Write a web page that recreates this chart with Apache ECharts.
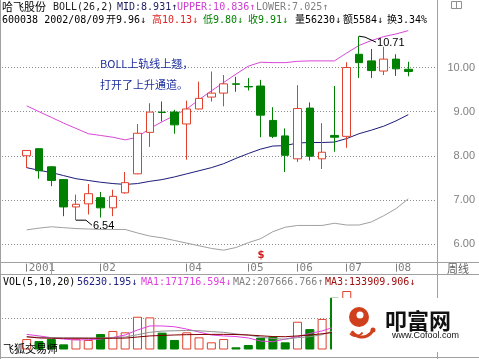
<!DOCTYPE html>
<html><head><meta charset="utf-8">
<script src="https://cdn.jsdelivr.net/npm/echarts@6/dist/echarts.min.js"></script>
<style>html,body{margin:0;padding:0;background:#fff}#c{width:479px;height:359px}</style>
</head><body><div id="c"></div>
<script>
// ---- data ----
const categories = ['2001-12-21','2001-12-28','2002-01-04','2002-01-11','2002-01-18','2002-01-25','2002-02-01','2002-02-08','2002-03-01','2002-03-08','2002-03-15','2002-03-22','2002-03-29','2002-04-05','2002-04-12','2002-04-19','2002-04-26','2002-04-30','2002-05-10','2002-05-17','2002-05-24','2002-05-31','2002-06-07','2002-06-14','2002-06-21','2002-06-28','2002-07-05','2002-07-12','2002-07-19','2002-07-26','2002-08-02','2002-08-09'];
const opens  = [8.00,8.16,7.75,7.46,6.84,6.91,7.05,6.82,7.16,7.59,8.53,8.99,8.99,8.72,9.06,9.33,9.42,9.63,9.57,9.58,8.80,8.45,7.93,9.08,7.93,8.46,8.44,10.30,10.15,9.92,10.19,9.96];
const closes = [8.12,7.66,7.44,6.84,6.90,7.14,6.82,7.08,7.39,8.51,8.99,8.98,8.70,9.06,9.30,9.42,9.63,9.62,9.56,8.92,8.44,8.01,9.07,7.99,8.08,8.42,10.00,10.11,9.93,10.19,9.97,9.91];
const lows   = [7.72,7.48,7.31,6.63,6.54,6.67,6.60,6.63,7.14,7.58,8.20,8.78,8.50,7.91,9.05,9.23,9.12,9.45,9.48,8.42,8.40,7.63,7.86,7.89,7.70,8.09,8.18,9.76,9.76,9.83,9.81,9.80];
const highs  = [8.13,8.17,7.76,7.47,7.12,7.36,7.18,7.23,7.63,8.72,9.19,9.23,9.04,9.25,9.68,9.91,9.83,9.79,9.76,9.72,9.10,8.62,9.60,9.21,8.74,9.58,10.12,10.71,10.42,10.47,10.30,10.13];
const bollUpper = [9.13,9.00,8.87,8.74,8.62,8.50,8.46,8.42,8.36,8.42,8.62,8.77,8.91,9.06,9.27,9.47,9.66,9.85,10.03,10.12,10.11,10.11,10.14,10.15,10.15,10.15,10.33,10.50,10.61,10.70,10.76,10.836];
const bollMid   = [7.73,7.67,7.62,7.55,7.48,7.44,7.40,7.37,7.35,7.37,7.42,7.46,7.52,7.59,7.66,7.73,7.82,7.94,8.05,8.15,8.22,8.23,8.29,8.30,8.30,8.31,8.39,8.50,8.58,8.67,8.79,8.931];
const bollLower = [6.32,6.36,6.39,6.37,6.35,6.34,6.33,6.33,6.33,6.25,6.18,6.14,6.08,6.02,5.96,5.90,5.86,5.92,6.03,6.12,6.28,6.38,6.42,6.42,6.42,6.47,6.43,6.43,6.50,6.64,6.80,7.025];
const volumes = [67000,54000,67000,33000,67000,61000,99000,119000,110000,210000,206000,108000,61000,110000,78000,46000,67000,14000,29000,76000,82000,46000,178000,131000,196000,332000,375000,300000,200000,170000,132000,56230];
const volMA1 = [97000,87000,76000,67000,61000,63000,67000,77000,93000,125000,151000,151000,146000,131000,112000,93000,87000,83000,74000,54000,50000,67000,82000,103000,119000,144000,240000,265000,280000,225000,175000,171717];
const volMA2 = [80000,78000,76000,75000,75000,74000,74000,76000,80000,95000,110000,118000,120000,122000,120000,115000,110000,100000,92000,80000,70000,66000,76000,82000,95000,122000,150000,175000,190000,200000,205000,207667];
const volMA3 = [82000,74000,72000,72000,72000,72000,72000,72000,73000,80000,87000,90000,93000,95000,96000,97000,97000,96000,93000,88000,83000,82000,87000,93000,101000,110000,118000,125000,130000,133000,134000,133910];
const priceTicks = [6,7,8,9,10];
const xTickIndex = [0,6,13,18,22,26,30];
const xTickLabels = ['2001','02','04','05','06','07','08'];

// ---- styles ----
const RED = '#e0402c', GREEN = '#008000', GRID = '#8c8c8c', FRAME = '#a0a0a0';
const MONO = "'DejaVu Sans Mono','Noto Sans CJK SC',monospace";
const CJK = "'Noto Sans CJK SC',sans-serif";

const tickMap = {};
xTickIndex.forEach((k, i) => tickMap[k] = xTickLabels[i]);
const showTick = (i) => tickMap[i] !== undefined;

const candleData = categories.map((_, i) => [opens[i], closes[i], lows[i], highs[i]]);
const volData = volumes.map((v, i) => {
  const up = closes[i] >= opens[i];
  return { value: v, itemStyle: up ? { color: '#ffffff', borderColor: RED, borderWidth: 1 } : { color: GREEN, borderColor: GREEN, borderWidth: 1 } };
});

const chart = echarts.init(document.getElementById('c'));
const dotted = { color: GRID, type: [1, 2], width: 1 };
const lineS = (data, color, x, y) => ({ type: 'line', data, xAxisIndex: x, yAxisIndex: y, symbol: 'none', silent: true, lineStyle: { color, width: 1 }, z: 3 });

chart.setOption({
  animation: false,
  backgroundColor: '#ffffff',
  grid: [
    { left: 2, right: 42, top: 67.5, height: 176.5 },
    { left: 20.55, width: 393.9, top: 27.79, height: 233.86 },
    { left: 20.55, width: 393.9, top: 279.3, height: 70.2 },
    { left: 2, right: 42, top: 318.3, height: 31.2 }
  ],
  xAxis: [
    { type: 'value', gridIndex: 0, show: false },
    { type: 'category', gridIndex: 1, data: categories, boundaryGap: true, offset: 2,
      axisLine: { show: false },
      axisTick: { show: true, interval: (i) => showTick(i), alignWithLabel: true, length: 8, lineStyle: { color: '#808080' } },
      axisLabel: { interval: (i) => showTick(i), formatter: (v, i) => tickMap[i] || '', align: 'left', margin: -1,
        color: '#808080', fontSize: 11, fontFamily: MONO, padding: [0, 0, 0, 2] },
      splitLine: { show: false } },
    { type: 'category', gridIndex: 2, data: categories, boundaryGap: true, show: false },
    { type: 'value', gridIndex: 3, show: false }
  ],
  yAxis: [
    { type: 'value', gridIndex: 0, min: priceTicks[0], max: priceTicks[priceTicks.length - 1], interval: 1, position: 'right',
      axisLine: { show: false }, axisTick: { show: false },
      axisLabel: { align: 'right', margin: 38, color: '#808080', fontSize: 11, fontFamily: "'Liberation Sans',sans-serif", formatter: (v) => v.toFixed(2) },
      splitLine: { show: true, lineStyle: dotted } },
    { type: 'value', gridIndex: 1, min: 5.6, max: 10.9, show: false, splitLine: { show: false } },
    { type: 'value', gridIndex: 2, min: 0, max: 450000, show: false, splitLine: { show: false } },
    { type: 'value', gridIndex: 3, min: 0, max: 200000, interval: 200000, show: true,
      axisLine: { show: false }, axisTick: { show: false }, axisLabel: { show: false },
      splitLine: { show: true, showMinLine: false, lineStyle: dotted } }
  ],
  series: [
    { type: 'candlestick', xAxisIndex: 1, yAxisIndex: 1, data: candleData, barWidth: 8, silent: true, z: 4,
      itemStyle: { color: '#ffffff', color0: GREEN, borderColor: RED, borderColor0: GREEN, borderWidth: 1 } },
    lineS(bollUpper, '#d848d8', 1, 1),
    lineS(bollMid, '#1c1c78', 1, 1),
    lineS(bollLower, '#a0a0a0', 1, 1),
    { type: 'bar', xAxisIndex: 2, yAxisIndex: 2, data: volData, barWidth: 9, silent: true, z: 2 },
    lineS(volMA1, '#e040e0', 2, 2),
    lineS(volMA2, '#909090', 2, 2),
    lineS(volMA3, '#800000', 2, 2)
  ]
});

// ---- texts & annotations ----
const T = (x, y, text, fill, size, family, extra) => Object.assign({ type: 'text', x, y, silent: true, z: 50,
  style: { text, fill, fontSize: size, fontFamily: family || MONO, verticalAlign: 'middle', align: 'left' } }, extra || {});
const L = (x1, y1, x2, y2, stroke, z) => ({ type: 'line', silent: true, z: z || 40, shape: { x1, y1, x2, y2 }, style: { stroke: stroke || FRAME, lineWidth: 1 } });

const g = [];
g.push(L(0.5, 0, 0.5, 359));
g.push(L(437.5, 0, 437.5, 359));
g.push(L(0, 262.5, 479, 262.5));
g.push(L(0, 274.5, 479, 274.5));
g.push(L(0, 357.5, 479, 357.5));
g.push(L(51.5, 263, 51.5, 274, FRAME));
// header line 1
g.push(T(2, 7, '哈飞股份', '#000', 11, CJK));
g.push(T(53, 7, 'BOLL(26,2)', '#202020', 10));
g.push(T(117, 7, 'MID:8.931↑', '#1c1c60', 10));
g.push(T(177, 7, 'UPPER:10.836↑', '#d040d0', 10));
g.push(T(256, 7, 'LOWER:7.025↑', '#808080', 10));
// header line 2
g.push(T(2, 20, '600038 2002/08/09', '#000', 10));
g.push(T(106, 20, '开9.96↓', '#000', 10));
g.push(T(152, 20, '高10.13↓', '#e02020', 10));
g.push(T(203, 20, '低9.80↓', GREEN, 10));
g.push(T(248, 20, '收9.91↓', GREEN, 10));
g.push(T(295, 20, '量56230↓', '#000', 10));
g.push(T(343, 20, '额5584↓', '#000', 10));
g.push(T(387, 20, '换3.34%', '#000', 10));
g.push({ type: 'rect', silent: true, z: 40, shape: { x: 451.5, y: 1.5, width: 10, height: 7 }, style: { fill: 'none', stroke: '#909090' } });
g.push(L(456.5, 2, 456.5, 8, '#909090'));
// annotation text
g.push(T(100, 64, 'BOLL上轨线上翘，', '#1f2f9f', 11, CJK));
g.push(T(100, 85, '打开了上升通道。', '#1f2f9f', 11, CJK));
g.push(T(447, 268.5, '周线', '#606060', 11, CJK));
// volume title
g.push(T(3, 282, 'VOL(5,10,20)', '#000', 10));
g.push(T(77, 282, '56230.195↓', '#202080', 10));
g.push(T(141, 282, 'MA1:171716.594↓', '#e040e0', 10));
g.push(T(233, 282, 'MA2:207666.766↑', '#808080', 10));
g.push(T(325, 282, 'MA3:133909.906↓', '#a01010', 10));
g.push(T(3, 349, '飞狐交易师', '#000', 11, CJK));

// high / low markers from data
let hi = 0, lo = 0;
highs.forEach((v, i) => { if (v > highs[hi]) hi = i; });
lows.forEach((v, i) => { if (v < lows[lo]) lo = i; });
const ph = chart.convertToPixel({ gridIndex: 1 }, [hi, highs[hi]]);
const pl = chart.convertToPixel({ gridIndex: 1 }, [lo, lows[lo]]);
g.push({ type: 'polyline', silent: true, z: 45, shape: { points: [[ph[0], ph[1]], [ph[0] + 6, ph[1] + 1], [ph[0] + 17, ph[1] + 6]] }, style: { stroke: '#000', fill: null, lineWidth: 1 } });
g.push(T(ph[0] + 18, ph[1] + 6.5, highs[hi].toFixed(2), '#000', 11, "'Liberation Sans',sans-serif"));
g.push({ type: 'polyline', silent: true, z: 45, shape: { points: [[pl[0], pl[1]], [pl[0] + 10, pl[1]], [pl[0] + 16, pl[1] + 5]] }, style: { stroke: '#000', fill: null, lineWidth: 1 } });
g.push(T(pl[0] + 17, pl[1] + 5.5, lows[lo].toFixed(2), '#000', 11, "'Liberation Sans',sans-serif"));
const pd = chart.convertToPixel({ gridIndex: 1 }, [19, 5.6]);
g.push(T(pd[0] - 3, pd[1] - 6, '$', '#d02020', 10, "'DejaVu Sans',sans-serif", { style: { text: '$', fill: '#d02020', fontSize: 10, fontWeight: 'bold', fontFamily: "'DejaVu Sans',sans-serif", verticalAlign: 'middle', align: 'left' } }));

// watermark box
g.push({ type: 'rect', silent: true, z: 90, shape: { x: 332, y: 298, width: 147, height: 54 }, style: { fill: '#ffffff' } });
g.push({ type: 'circle', silent: true, z: 91, shape: { cx: 359, cy: 317, r: 10 }, style: { fill: '#d0401c' } });
g.push({ type: 'circle', silent: true, z: 92, shape: { cx: 360, cy: 315, r: 3.5 }, style: { fill: '#ffffff' } });
g.push({ type: 'arc', silent: true, z: 92, shape: { cx: 362, cy: 325, r: 12, startAngle: 0.3, endAngle: 2.6 }, style: { stroke: '#d0401c', lineWidth: 3, fill: null } });
g.push({ type: 'arc', silent: true, z: 92, shape: { cx: 356, cy: 328, r: 8, startAngle: 0.6, endAngle: 2.4 }, style: { stroke: '#d0401c', lineWidth: 2, fill: null } });
g.push({ type: 'circle', silent: true, z: 92, shape: { cx: 373, cy: 330, r: 2.5 }, style: { fill: '#d0401c' } });
g.push(T(385, 321, '叩富网', '#111', 22, CJK, { z: 95, style: { text: '叩富网', fill: '#111', fontSize: 22, fontWeight: 'bold', fontFamily: CJK, verticalAlign: 'middle', align: 'left' } }));
g.push(T(392, 336, 'www.Cofool.com', '#111', 9, "'Liberation Sans',sans-serif", { z: 95 }));

chart.setOption({ graphic: { elements: g } });
</script></body></html>
